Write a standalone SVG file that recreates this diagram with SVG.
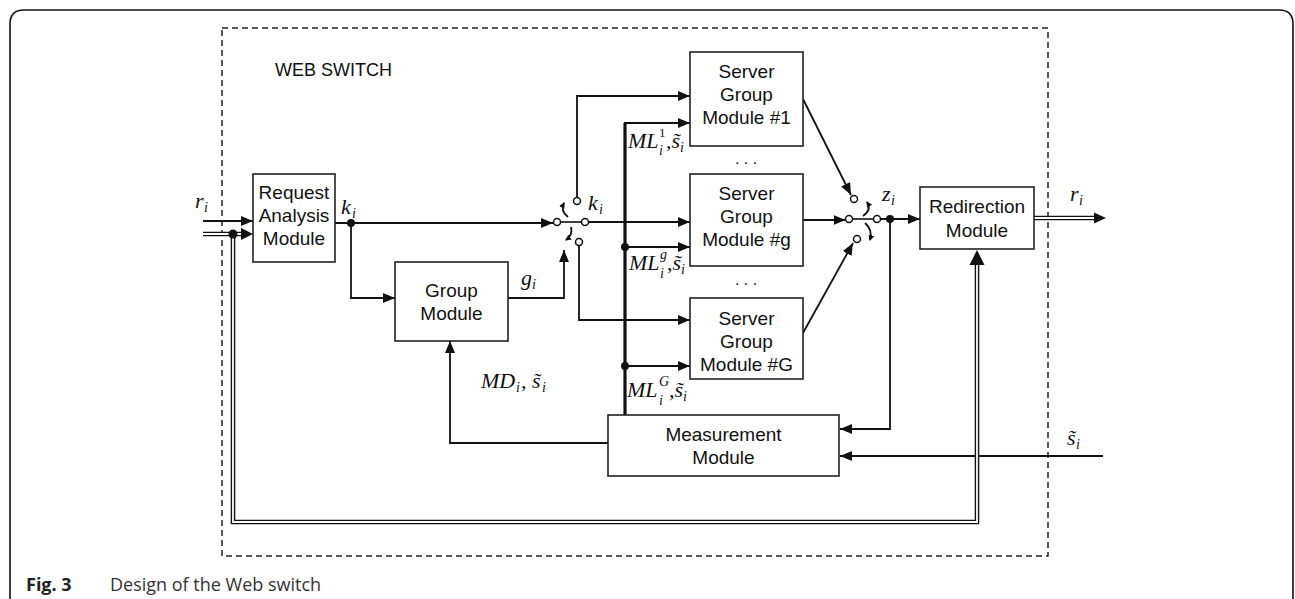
<svg xmlns="http://www.w3.org/2000/svg" width="1295" height="599" viewBox="0 0 1295 599">
  <defs>
    <marker id="arr" viewBox="0 0 12 10" refX="12" refY="5" markerWidth="12" markerHeight="10" markerUnits="userSpaceOnUse" orient="auto">
      <path d="M0,0 L12,5 L0,10 z" fill="#111"/>
    </marker>
    <marker id="sarr" viewBox="0 0 6 6" refX="5" refY="3" markerWidth="6" markerHeight="6" markerUnits="userSpaceOnUse" orient="auto">
      <path d="M0,0 L6,3 L0,6 z" fill="#111"/>
    </marker>
    <style>
      .box { fill: #fff; stroke: #222; stroke-width: 1.6; }
      .lbl { font-family: "Liberation Sans", Arial, sans-serif; font-size: 19px; fill: #111; text-anchor: middle; }
      .wire { fill: none; stroke: #111; stroke-width: 1.8; }
      .bus { fill: none; stroke: #111; stroke-width: 3.2; }
      .dbl-o { fill: none; stroke: #111; stroke-width: 4.6; stroke-linejoin: miter; }
      .dbl-i { fill: none; stroke: #fff; stroke-width: 1.8; stroke-linejoin: miter; }
      .sw { fill: #fff; stroke: #111; stroke-width: 1.5; }
      .dot { fill: #111; }
      .m { font-family: "Liberation Serif", "Times New Roman", serif; font-style: italic; font-size: 22px; fill: #111; }
      .ms { font-family: "Liberation Serif", "Times New Roman", serif; font-style: italic; font-size: 14px; fill: #111; }
      .mn { font-family: "Liberation Serif", "Times New Roman", serif; font-size: 13px; fill: #111; }
      .dots { font-family: "Liberation Sans", Arial, sans-serif; font-size: 16px; fill: #111; }
    </style>
  </defs>

  <!-- page frame and switch boundary -->
  <path d="M10,599 V24 Q10,10 24,10 H1279 Q1293,10 1293,24 V599" fill="none" stroke="#111" stroke-width="1.6"/>
  <rect x="222" y="28" width="826" height="528" fill="none" stroke="#222" stroke-width="1.5" stroke-dasharray="6 4"/>
  <text x="275" y="76" font-family="Liberation Sans, Arial, sans-serif" font-size="18" fill="#111">WEB SWITCH</text>

  <!-- connectors -->
  <g id="connectors">
    <!-- request input -->
    <path class="wire" d="M203,221 H253" marker-end="url(#arr)"/>
    <!-- k_i to the selector and to the group module -->
    <path class="wire" d="M335,223 H553" marker-end="url(#arr)"/>
    <path class="wire" d="M351,223 V298 H395" marker-end="url(#arr)"/>
    <!-- g_i controls the selector -->
    <path class="wire" d="M508,298 H564 V250" marker-end="url(#arr)"/>
    <!-- selector outputs to the server group modules -->
    <path class="wire" d="M577,198 V96 H690" marker-end="url(#arr)"/>
    <path class="wire" d="M588.5,222 H690" marker-end="url(#arr)"/>
    <path class="wire" d="M579,245 V320 H690" marker-end="url(#arr)"/>
    <!-- load bus from the measurement module -->
    <path class="bus" d="M625,416 V123"/>
    <path class="wire" d="M624,123 H690" marker-end="url(#arr)"/>
    <path class="wire" d="M625,247 H690" marker-end="url(#arr)"/>
    <path class="wire" d="M625,366 H690" marker-end="url(#arr)"/>
    <circle class="dot" cx="625" cy="247" r="4"/>
    <circle class="dot" cx="625" cy="366" r="4"/>
    <!-- server group outputs to the second selector -->
    <path class="wire" d="M803,99 L851,195" marker-end="url(#arr)"/>
    <path class="wire" d="M803,220 H845.5" marker-end="url(#arr)"/>
    <path class="wire" d="M803,333 L853,243" marker-end="url(#arr)"/>
    <!-- z_i to redirection and measurement -->
    <path class="wire" d="M880.5,219 H920" marker-end="url(#arr)"/>
    <path class="wire" d="M890,219 V429 H840" marker-end="url(#arr)"/>
    <circle class="dot" cx="890" cy="219" r="4"/>
    <!-- external s_i feed -->
    <path class="wire" d="M1103,456 H840" marker-end="url(#arr)"/>
    <!-- MD_i feedback to the group module -->
    <path class="wire" d="M608,443 H450 V341" marker-end="url(#arr)"/>

    <!-- double lines: request stream -->
    <path class="dbl-o" d="M203,234 H241"/>
    <path class="dbl-i" d="M200,234 H242"/>
    <polygon points="241,228 253,234 241,240" fill="#111"/>
    <path class="dbl-o" d="M233,234 V522 H977 V264"/>
    <path class="dbl-i" d="M233,234 V522 H977 V265"/>
    <polygon points="969.5,265 977,250 984.5,265" fill="#111"/>
    <circle class="dot" cx="233" cy="234" r="4.5"/>
    <path class="dbl-o" d="M1034,218 H1094"/>
    <path class="dbl-i" d="M1034,218 H1095"/>
    <polygon points="1094,212.5 1106,218 1094,223.5" fill="#111"/>
    <circle class="dot" cx="351" cy="223" r="4"/>
  </g>

  <!-- request selector switch -->
  <g id="switch-in">
    <line x1="560" y1="222" x2="581" y2="222" stroke="#111" stroke-width="1.6"/>
    <path class="wire" d="M568,217 Q560,211 564,203" stroke-width="1.3" marker-end="url(#sarr)"/>
    <path class="wire" d="M571,227 Q573,235 566,240" stroke-width="1.3" marker-end="url(#sarr)"/>
    <circle class="sw" cx="557" cy="222" r="3.5"/>
    <circle class="sw" cx="585" cy="222" r="3.5"/>
    <circle class="sw" cx="577" cy="201" r="3.5"/>
    <circle class="sw" cx="579" cy="242" r="3.5"/>
  </g>

  <!-- output selector switch -->
  <g id="switch-out">
    <line x1="852" y1="219" x2="874" y2="219" stroke="#111" stroke-width="1.6"/>
    <path class="wire" d="M863,216 Q872,210 867,202" stroke-width="1.3" marker-end="url(#sarr)"/>
    <path class="wire" d="M865,223 Q873,230 870,240" stroke-width="1.3" marker-end="url(#sarr)"/>
    <circle class="sw" cx="849" cy="219" r="3.5"/>
    <circle class="sw" cx="877" cy="219" r="3.5"/>
    <circle class="sw" cx="854" cy="199" r="3.5"/>
    <circle class="sw" cx="857" cy="239" r="3.5"/>
  </g>

  <g id="request-analysis">
    <rect class="box" x="253" y="174" width="82" height="88"/>
    <text class="lbl" x="294" y="199">Request</text>
    <text class="lbl" x="294" y="222">Analysis</text>
    <text class="lbl" x="294" y="245">Module</text>
  </g>

  <g id="group-module">
    <rect class="box" x="395" y="262" width="113" height="79"/>
    <text class="lbl" x="451.5" y="297">Group</text>
    <text class="lbl" x="451.5" y="320">Module</text>
  </g>

  <g id="server-group-1">
    <rect class="box" x="690" y="52" width="113" height="94"/>
    <text class="lbl" x="746.5" y="78">Server</text>
    <text class="lbl" x="746.5" y="101">Group</text>
    <text class="lbl" x="746.5" y="124">Module #1</text>
  </g>
  <text class="dots" x="746" y="164" text-anchor="middle">. . .</text>

  <g id="server-group-g">
    <rect class="box" x="690" y="174" width="113" height="92"/>
    <text class="lbl" x="746.5" y="200">Server</text>
    <text class="lbl" x="746.5" y="223">Group</text>
    <text class="lbl" x="746.5" y="246">Module #g</text>
  </g>
  <text class="dots" x="746" y="285" text-anchor="middle">. . .</text>

  <g id="server-group-G">
    <rect class="box" x="690" y="298" width="113" height="81"/>
    <text class="lbl" x="746.5" y="325">Server</text>
    <text class="lbl" x="746.5" y="348">Group</text>
    <text class="lbl" x="746.5" y="371">Module #G</text>
  </g>

  <g id="redirection">
    <rect class="box" x="920" y="187" width="114" height="62"/>
    <text class="lbl" x="977" y="213">Redirection</text>
    <text class="lbl" x="977" y="237">Module</text>
  </g>

  <g id="measurement">
    <rect class="box" x="608" y="415" width="231" height="61"/>
    <text class="lbl" x="723.5" y="441">Measurement</text>
    <text class="lbl" x="723.5" y="464">Module</text>
  </g>

  <!-- signal labels -->
  <g id="labels">
    <text class="m" x="195" y="208">r</text><text class="ms" x="204" y="212">i</text>
    <text class="m" x="341" y="214">k</text><text class="ms" x="352" y="218">i</text>
    <text class="m" x="588" y="210">k</text><text class="ms" x="599" y="214">i</text>
    <text class="m" x="521" y="285">g</text><text class="ms" x="532" y="289">i</text>
    <text class="m" x="882" y="201">z</text><text class="ms" x="891" y="205">i</text>
    <text class="m" x="1070" y="201">r</text><text class="ms" x="1079" y="205">i</text>
    <text class="m" x="1067" y="445">s̃</text><text class="ms" x="1076" y="449">i</text>

    <text class="m" x="628" y="148">ML</text><text class="mn" x="659" y="137">1</text><text class="ms" x="659" y="155">i</text>
    <text class="m" x="666" y="148">,s̃</text><text class="ms" x="680" y="152">i</text>

    <text class="m" x="629" y="270">ML</text><text class="ms" x="660" y="259">g</text><text class="ms" x="660" y="278">i</text>
    <text class="m" x="667" y="270">,s̃</text><text class="ms" x="681" y="274">i</text>

    <text class="m" x="627" y="397">ML</text><text class="ms" x="659" y="386">G</text><text class="ms" x="659" y="405">i</text>
    <text class="m" x="669" y="397">,s̃</text><text class="ms" x="683" y="401">i</text>

    <text class="m" x="481" y="388">MD</text><text class="ms" x="516" y="392">i</text>
    <text class="m" x="521" y="388">, s̃</text><text class="ms" x="542" y="392">i</text>
  </g>

  <!-- caption -->
  <text x="26" y="591" font-family="Open Sans, Liberation Sans, sans-serif" font-size="18" font-weight="bold" fill="#222">Fig. 3</text>
  <text x="110" y="591" font-family="Open Sans, Liberation Sans, sans-serif" font-size="18" fill="#333">Design of the Web switch</text>
</svg>
